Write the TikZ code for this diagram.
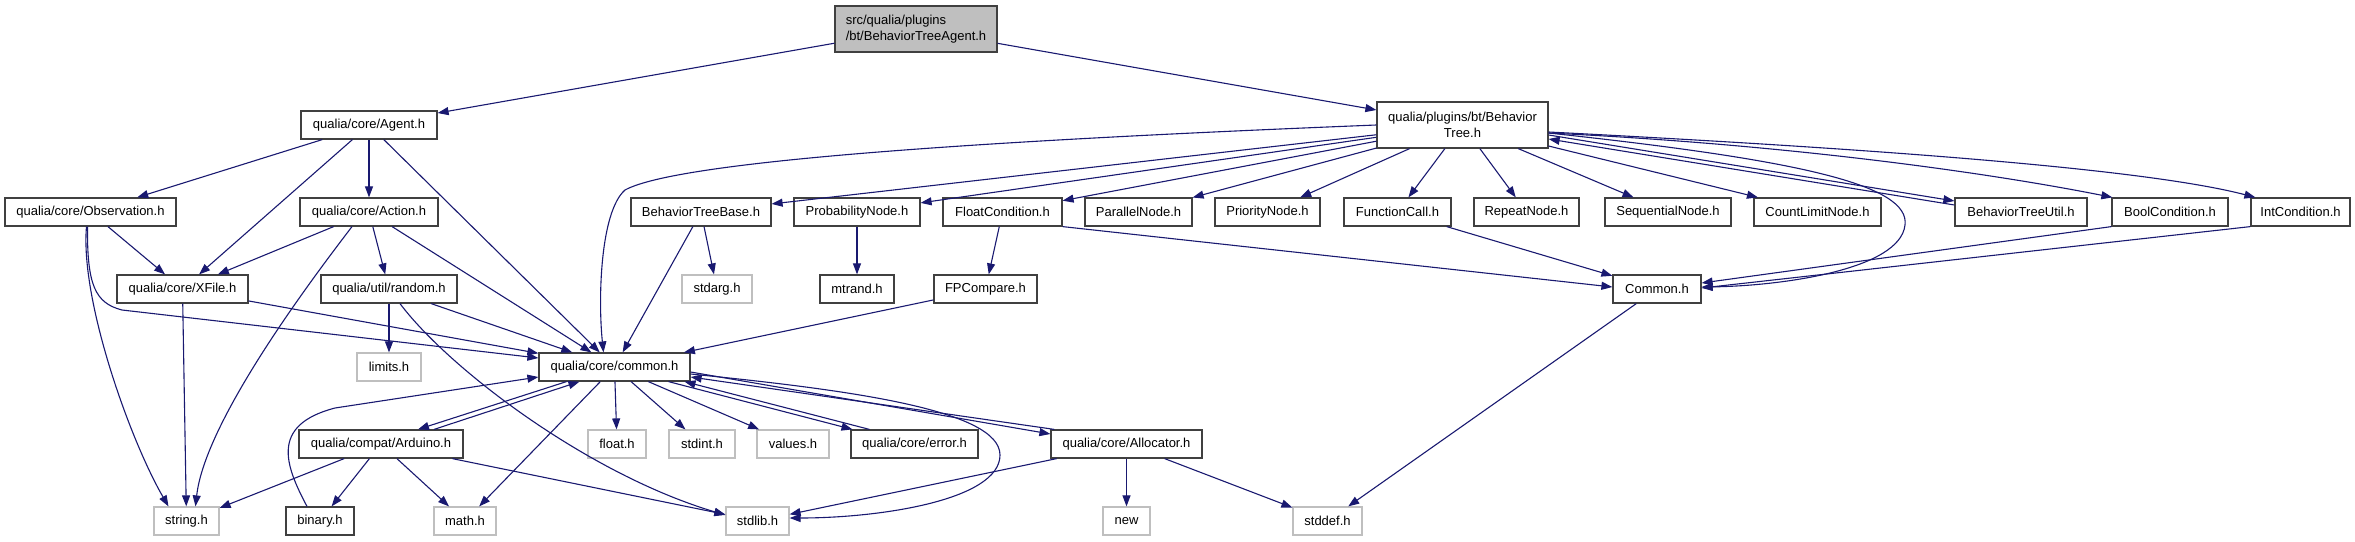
\documentclass[tikz,border=0pt]{standalone}
\usepackage{fontspec}
\setmainfont{Liberation Sans}
\usetikzlibrary{arrows.meta}
\definecolor{edgec}{HTML}{191970}
\definecolor{bordc}{HTML}{404040}
\definecolor{greyc}{HTML}{BFBFBF}
\begin{document}
\begin{tikzpicture}[x=1pt,y=-1pt,
  box/.style={draw=bordc, line width=1.2pt, fill=white, inner sep=0pt, minimum height=28pt, font=\fontsize{13}{16}\selectfont, text=black},
  ext/.style={box, draw=greyc},
  edge/.style={draw=edgec, line width=1.1pt, -{Triangle[length=11pt,width=8pt]}},
]
\useasboundingbox (0,0) rectangle (2355,541);
% row 0
\node[box, fill=greyc, minimum width=162pt, minimum height=46pt, align=left] (top) at (916,29) {src/qualia/plugins\\/bt/BehaviorTreeAgent.h};
% row 1
\node[box, minimum width=136pt] (agent) at (369,125) {qualia/core/Agent.h};
\node[box, minimum width=171pt, minimum height=46pt, align=center] (bt) at (1462.5,125) {qualia/plugins/bt/Behavior\\Tree.h};
% row 2
\node[box, minimum width=171pt] (obs) at (90.5,212) {qualia/core/Observation.h};
\node[box, minimum width=138pt] (action) at (369,212) {qualia/core/Action.h};
\node[box, minimum width=140pt] (btbase) at (701,212) {BehaviorTreeBase.h};
\node[box, minimum width=126pt] (prob) at (857,212) {ProbabilityNode.h};
\node[box, minimum width=119pt] (floatc) at (1002.5,212) {FloatCondition.h};
\node[box, minimum width=107pt] (parallel) at (1138.5,212) {ParallelNode.h};
\node[box, minimum width=105pt] (priority) at (1267.5,212) {PriorityNode.h};
\node[box, minimum width=107pt] (funccall) at (1397.5,212) {FunctionCall.h};
\node[box, minimum width=105pt] (repeat) at (1526.5,212) {RepeatNode.h};
\node[box, minimum width=126pt] (seq) at (1668,212) {SequentialNode.h};
\node[box, minimum width=127pt] (countlimit) at (1817.5,212) {CountLimitNode.h};
\node[box, minimum width=132pt] (btutil) at (2021,212) {BehaviorTreeUtil.h};
\node[box, minimum width=116pt] (boolc) at (2170,212) {BoolCondition.h};
\node[box, minimum width=99pt] (intc) at (2300.5,212) {IntCondition.h};
% row 3
\node[box, minimum width=131pt] (xfile) at (182.5,289) {qualia/core/XFile.h};
\node[box, minimum width=136pt] (random) at (389,289) {qualia/util/random.h};
\node[ext, minimum width=70pt] (stdarg) at (717,289) {stdarg.h};
\node[box, minimum width=74pt] (mtrand) at (857,289) {mtrand.h};
\node[box, minimum width=103pt] (fpcompare) at (985.5,289) {FPCompare.h};
\node[box, minimum width=88pt] (common2) at (1657,289) {Common.h};
% row 4
\node[ext, minimum width=64pt] (limits) at (389,367) {limits.h};
\node[box, minimum width=151pt] (common) at (614.5,367) {qualia/core/common.h};
% row 5
\node[box, minimum width=164pt] (arduino) at (381,444) {qualia/compat/Arduino.h};
\node[ext, minimum width=58pt] (float) at (617,444) {float.h};
\node[ext, minimum width=66pt] (stdint) at (702,444) {stdint.h};
\node[ext, minimum width=72pt] (values) at (793,444) {values.h};
\node[box, minimum width=127pt] (error) at (914.5,444) {qualia/core/error.h};
\node[box, minimum width=151pt] (allocator) at (1126.5,444) {qualia/core/Allocator.h};
% row 6
\node[ext, minimum width=65pt] (string) at (186.5,521) {string.h};
\node[box, minimum width=68pt] (binary) at (320,521) {binary.h};
\node[ext, minimum width=62pt] (math) at (465,521) {math.h};
\node[ext, minimum width=63pt] (stdlib) at (757.5,521) {stdlib.h};
\node[ext, minimum width=47pt] (new) at (1126.5,521) {new};
\node[ext, minimum width=69pt] (stddef) at (1327.5,521) {stddef.h};

% edges from top
\draw[edge] (top) -- (agent);
\draw[edge] (top) -- (bt);
% Agent
\draw[edge] (agent) -- (obs);
\draw[edge] (agent) -- (xfile);
\draw[edge] (agent) -- (action);
\draw[edge] (agent) -- (common);
% Observation
\draw[edge] (obs) -- (xfile);
\draw[edge] ([xshift=-4pt]obs.south) .. controls (80,300) and (130,440) .. ([xshift=-18pt]string.north);
\draw[edge] ([xshift=-3pt]obs.south) .. controls (87,285) and (95,303) .. (122,310) -- ([yshift=9pt]common.west);
% Action
\draw[edge] (action) -- (xfile);
\draw[edge] (action) -- (random);
\draw[edge] ([xshift=-17pt]action.south) .. controls (315,275) and (205,420) .. ([xshift=9pt]string.north);
\draw[edge] (action) -- (common);
% XFile
\draw[edge] (xfile) -- (common);
\draw[edge] (xfile) -- (string);
% random
\draw[edge] (random) -- (limits);
\draw[edge] (random) -- (common);
\draw[edge] ([xshift=11pt]random.south) .. controls (450,370) and (590,475) .. ([yshift=6pt]stdlib.west);
% BehaviorTree
\draw[edge] (bt.west) .. controls (1000,140) and (680,160) .. (625,190) .. controls (600,212) and (598,300) .. ([xshift=-11pt]common.north);
\draw[edge] (bt) -- (btbase);
\draw[edge] (bt) -- (prob);
\draw[edge] (bt) -- (floatc);
\draw[edge] (bt) -- (parallel);
\draw[edge] (bt) -- (priority);
\draw[edge] (bt) -- (funccall);
\draw[edge] (bt) -- (repeat);
\draw[edge] (bt) -- (seq);
\draw[edge] (bt) -- (countlimit);
\draw[edge] ([yshift=-10pt]bt.east) -- ([yshift=11pt]btutil.west);
\draw[edge] ([yshift=7pt]btutil.west) -- ([yshift=-14pt]bt.east);
\draw[edge] ([yshift=-8pt]bt.east) .. controls (1800,145) and (2000,175) .. ([xshift=1pt]boolc.north west);
\draw[edge] ([yshift=-7pt]bt.east) .. controls (1900,150) and (2150,170) .. ([xshift=5pt]intc.north west);
\draw[edge] ([yshift=-8pt]bt.east) .. controls (1800,160) and (1910,185) .. (1905,225) .. controls (1900,270) and (1780,286) .. ([yshift=2pt]common2.east);
% plugin headers
\draw[edge] (btbase) -- (common);
\draw[edge] (btbase) -- (stdarg);
\draw[edge] (prob) -- (mtrand);
\draw[edge] (floatc) -- (fpcompare);
\draw[edge] (floatc.south east) -- ([yshift=2pt]common2.west);
\draw[edge] (fpcompare) -- (common);
\draw[edge] (funccall) -- (common2);
\draw[edge] (boolc.south west) -- ([yshift=6pt]common2.east);
\draw[edge] (intc.south west) -- ([yshift=1pt]common2.east);
\draw[edge] (common2) -- (stddef);
% common.h
\draw[edge] (common) -- (float);
\draw[edge] (common) -- (stdint);
\draw[edge] (common) -- (values);
\draw[edge] (common) -- (math);
\draw[edge] ([xshift=-48pt]common.south) -- ([xshift=37pt]arduino.north);
\draw[edge] ([xshift=53pt]arduino.north) -- ([xshift=-35pt]common.south);
\draw[edge] ([xshift=54pt]common.south) -- ([xshift=-62pt]error.north);
\draw[edge] ([xshift=-45pt]error.north) -- ([xshift=70pt]common.south);
\draw[edge] ([yshift=-5pt]common.east) -- ([yshift=10pt]allocator.west);
\draw[edge] ([xshift=4pt]allocator.north west) -- ([yshift=-10pt]common.east);
\draw[edge] ([yshift=-7pt]common.east) .. controls (850,390) and (1000,410) .. (1000,455) .. controls (1000,500) and (880,518) .. ([yshift=3pt]stdlib.east);
% binary
\draw[edge] ([xshift=-13pt]binary.north) .. controls (285,465) and (270,425) .. (335,408) -- ([yshift=-10pt]common.west);
% Arduino
\draw[edge] (arduino) -- (string);
\draw[edge] (arduino) -- (binary);
\draw[edge] (arduino) -- (math);
\draw[edge] (arduino) -- (stdlib);
% Allocator
\draw[edge] (allocator) -- (stdlib);
\draw[edge] (allocator) -- (new);
\draw[edge] (allocator) -- (stddef);
\end{tikzpicture}
\end{document}
